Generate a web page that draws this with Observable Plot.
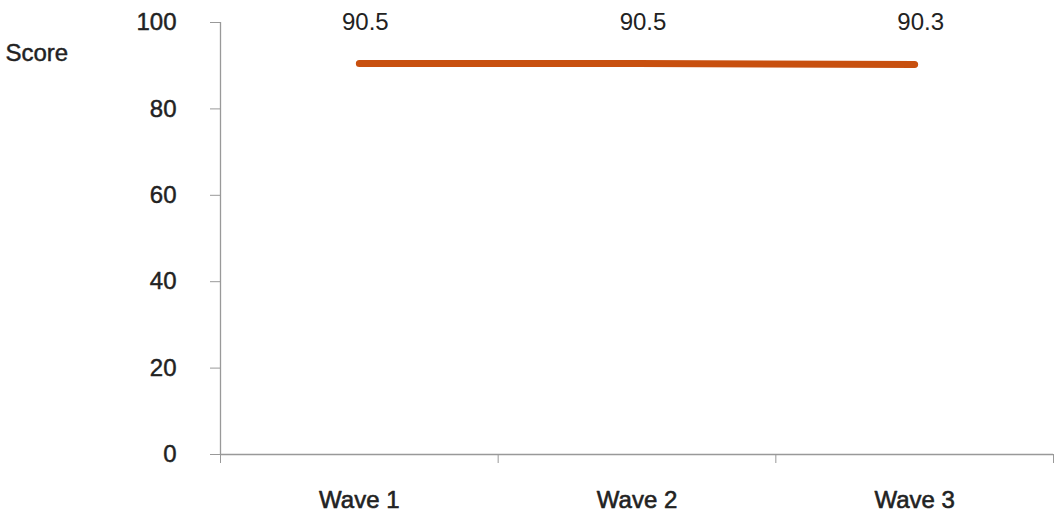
<!DOCTYPE html>
<html>
<head>
<meta charset="utf-8">
<script src="https://cdn.jsdelivr.net/npm/d3@7"></script>
<script src="https://cdn.jsdelivr.net/npm/@observablehq/plot@0.6"></script>
<style>
  html, body { margin: 0; padding: 0; background: #fff; }
  #chart svg { display: block; }
</style>
</head>
<body>
<div id="chart"></div>
<script>
const waves = ["Wave 1", "Wave 2", "Wave 3"];
const scores = [90.5, 90.5, 90.3];
const yTicks = [0, 20, 40, 60, 80, 100];
const yLabel = "Score";

const rows = waves.map((w, i) => ({wave: w, pos: i + 0.5, score: scores[i]}));
const axisColor = "#999999";
const textColor = "#222222";
const font = "'Liberation Sans', Arial, Helvetica, sans-serif";

const chart = Plot.plot({
  width: 1055,
  height: 514,
  marginLeft: 220,
  marginRight: 2,
  marginTop: 22,
  marginBottom: 60,
  style: {fontFamily: font, fontSize: "24px", color: textColor, background: "#fff", overflow: "visible"},
  x: {domain: [0, waves.length], axis: null},
  y: {domain: [0, 100], axis: null},
  marks: [
    // y axis ticks and line
    Plot.axisY({ticks: yTicks, tickSize: 10, tickFormat: () => "", stroke: axisColor, label: null}),
    Plot.ruleX([0], {y1: 0, y2: 100, stroke: axisColor, strokeWidth: 1.3}),
    // y tick labels
    Plot.text(yTicks, {x: 0, y: d => d, text: d => String(d), dx: -44, textAnchor: "end", fill: textColor, stroke: textColor, strokeWidth: 0.45, fontSize: 24}),
    // x axis
    Plot.ruleY([0], {stroke: axisColor, strokeWidth: 1.3}),
    Plot.axisX({ticks: d3.range(waves.length + 1), tickSize: 9, tickFormat: () => "", stroke: axisColor, label: null}),
    Plot.text(rows, {x: "pos", y: () => 0, text: "wave", dy: 46, fill: textColor, stroke: textColor, strokeWidth: 0.6, fontSize: 24}),
    // axis title
    Plot.text([yLabel], {x: 0, y: 100, text: d => d, dx: -215, dy: 31, textAnchor: "start", fill: textColor, stroke: textColor, strokeWidth: 0.45, fontSize: 24}),
    // data line
    Plot.line(rows, {x: "pos", y: "score", stroke: "#C8500F", strokeWidth: 7, strokeLinecap: "round"}),
    // value labels
    Plot.text(rows, {x: "pos", y: () => 100, text: d => d.score.toFixed(1), dx: 6, fill: textColor, fontSize: 24})
  ]
});
document.getElementById("chart").appendChild(chart);
</script>
</body>
</html>
